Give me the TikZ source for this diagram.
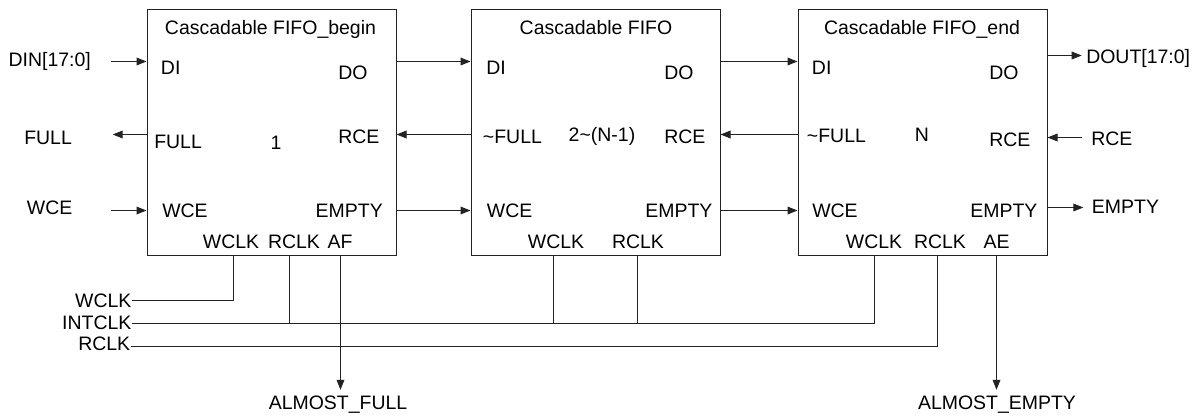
\documentclass[tikz,border=0pt]{standalone}
\usepackage{fontspec}
\setmainfont{Liberation Sans}
\usetikzlibrary{arrows.meta}
\definecolor{linec}{RGB}{35,35,35}
\begin{document}
\begin{tikzpicture}[x=0.75pt,y=-0.75pt,
  wire/.style={line width=0.75pt, draw=linec},
  arr/.style={wire, -{Triangle[length=7.5pt,width=5.8pt]}},
  fifo/.style={draw=linec, line width=0.75pt, minimum width=186.75pt,
    minimum height=184.5pt, anchor=north west, inner sep=0pt},
  lbl/.style={font=\fontsize{14.6}{17}\selectfont, text height=10pt,
    text depth=0pt, inner sep=0pt, text=black},
]
\useasboundingbox (0,0) rectangle (1199,418);

% the three FIFO blocks
\node[fifo] (b1) at (146.5,8.5) {};
\node[fifo] (b2) at (470.5,8.5) {};
\node[fifo] (b3) at (797.5,8.5) {};

% block 1
\node[lbl] (t1) at (270.5,28.3) {Cascadable FIFO\_begin};
\node[lbl,anchor=west] (b1di) at (160.7,68.3) {DI};
\node[lbl,anchor=west] (b1do) at (338,73.3) {DO};
\node[lbl,anchor=west] (b1full) at (154,141.7) {FULL};
\node[lbl] (n1) at (276,143.3) {1};
\node[lbl,anchor=west] (b1rce) at (338,137.3) {RCE};
\node[lbl,anchor=west] (b1wce) at (162,210.7) {WCE};
\node[lbl,anchor=east] (b1empty) at (383,210.7) {EMPTY};
\node[lbl] (b1wclk) at (231,241.5) {WCLK};
\node[lbl] (b1rclk) at (294,241.5) {RCLK};
\node[lbl] (b1af) at (340,241.5) {AF};

% block 2
\node[lbl] (t2) at (596,28.3) {Cascadable FIFO};
\node[lbl,anchor=west] (b2di) at (486,68.3) {DI};
\node[lbl,anchor=west] (b2do) at (664,72.7) {DO};
\node[lbl,anchor=west] (b2full) at (482.7,136.7) {\textasciitilde FULL};
\node[lbl] (n2) at (602,135) {2\textasciitilde (N-1)};
\node[lbl,anchor=west] (b2rce) at (664,137.3) {RCE};
\node[lbl,anchor=west] (b2wce) at (486.7,210.7) {WCE};
\node[lbl,anchor=east] (b2empty) at (712.7,210.7) {EMPTY};
\node[lbl] (b2wclk) at (556,241.5) {WCLK};
\node[lbl] (b2rclk) at (638,241.5) {RCLK};

% block 3
\node[lbl] (t3) at (922,28.3) {Cascadable FIFO\_end};
\node[lbl,anchor=west] (b3di) at (811.7,68.3) {DI};
\node[lbl,anchor=west] (b3do) at (989,72.7) {DO};
\node[lbl,anchor=west] (b3full) at (806.7,136) {\textasciitilde FULL};
\node[lbl] (n3) at (922,135) {N};
\node[lbl,anchor=west] (b3rce) at (989,140) {RCE};
\node[lbl,anchor=west] (b3wce) at (812,210.7) {WCE};
\node[lbl,anchor=east] (b3empty) at (1037.7,210.7) {EMPTY};
\node[lbl] (b3wclk) at (874,241.5) {WCLK};
\node[lbl] (b3rclk) at (940,241.5) {RCLK};
\node[lbl] (b3ae) at (996.5,241.5) {AE};

% external signal names
\node[lbl,anchor=west] (din) at (8.3,60) {DIN[17:0]};
\node[lbl,anchor=west] (fullo) at (24,138.3) {FULL};
\node[lbl,anchor=west] (wcei) at (26.7,208.3) {WCE};
\node[lbl,anchor=west] (dout) at (1086,56.7) {DOUT[17:0]};
\node[lbl,anchor=west] (rcei) at (1091,139.3) {RCE};
\node[lbl,anchor=west] (emptyo) at (1091.7,207.3) {EMPTY};
\node[lbl,anchor=east] (wclkl) at (131.7,300.5) {WCLK};
\node[lbl,anchor=east] (intl) at (131.7,323.3) {INTCLK};
\node[lbl,anchor=east] (rclkl) at (130.5,343.8) {RCLK};
\node[lbl,inner ysep=4.9pt] (afl) at (338,403.3) {ALMOST\_FULL};
\node[lbl,inner ysep=4.9pt] (ael) at (997,403.3) {ALMOST\_EMPTY};

% rows of the pin connections
\coordinate (rD) at (0,61.5);
\coordinate (rF) at (0,134.5);
\coordinate (rW) at (0,210.5);
\coordinate (busW) at (0,300.5);
\coordinate (busI) at (0,323.5);
\coordinate (busR) at (0,346.5);

% free ends of the outer arrows
\coordinate (dinS) at (111,61.5);
\coordinate (fullE) at (112.7,134.5);
\coordinate (wceS) at (111,210.5);
\coordinate (doutE) at (1081.7,55.5);
\coordinate (rceS) at (1081.7,137.5);
\coordinate (emptyE) at (1083.3,207.5);

% clock / flag pin columns
\coordinate (c1) at (233.5,0);
\coordinate (c2) at (289.5,0);
\coordinate (c3) at (340.5,0);
\coordinate (c4) at (553.5,0);
\coordinate (c5) at (637.5,0);
\coordinate (c6) at (874.5,0);
\coordinate (c7) at (937.5,0);
\coordinate (c8) at (996.5,0);

% inputs and outputs of the chain
\draw[arr] (dinS) -- (b1.west |- dinS);
\draw[arr] (b1.west |- fullE) -- (fullE);
\draw[arr] (wceS) -- (b1.west |- wceS);
\draw[arr] (b3.east |- doutE) -- (doutE);
\draw[arr] (rceS) -- (b3.east |- rceS);
\draw[arr] (b3.east |- emptyE) -- (emptyE);

% links between neighbouring blocks
\foreach \a/\b in {b1/b2, b2/b3} {
  \draw[arr] (\a.east |- rD) -- (\b.west |- rD);
  \draw[arr] (\b.west |- rF) -- (\a.east |- rF);
  \draw[arr] (\a.east |- rW) -- (\b.west |- rW);
}

% clock buses
\draw[wire] (wclkl.east |- busW) -| (b1.south -| c1);
\draw[wire] (intl.east |- busI) -| (b3.south -| c6);
\draw[wire] (rclkl.east |- busR) -| (b3.south -| c7);
\foreach \c/\b in {c2/b1, c4/b2, c5/b2}
  \draw[wire] (\b.south -| \c) -- (\c |- busI);

% almost full / almost empty flags
\draw[arr] (b1.south -| c3) -- (c3 |- afl.north);
\draw[arr] (b3.south -| c8) -- (c8 |- ael.north);
\end{tikzpicture}
\end{document}
